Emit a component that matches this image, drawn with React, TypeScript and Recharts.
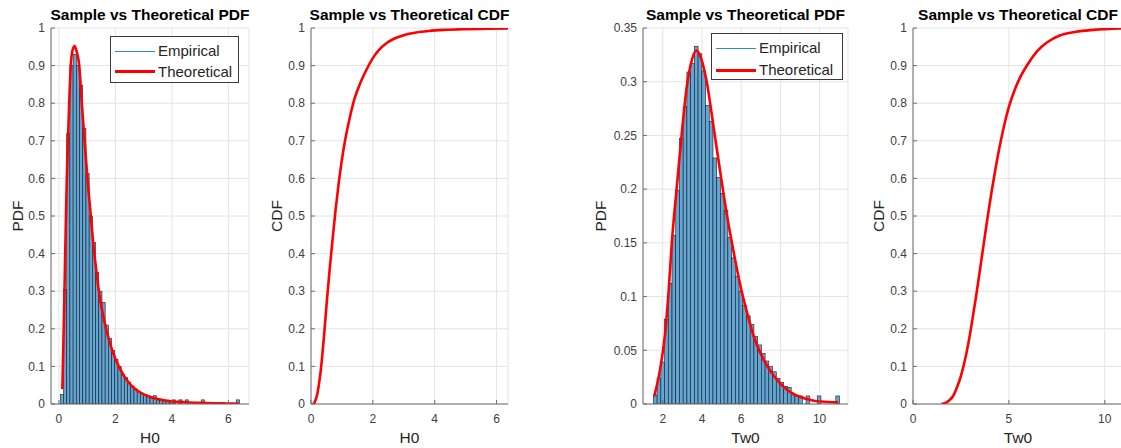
import React from "react";
import { Bar, CartesianGrid, ComposedChart, Line, XAxis, YAxis } from "recharts";

const FONT = '"Liberation Sans", Arial, Helvetica, sans-serif';
const BAR_FILL = "#60a7d8";
const BAR_EDGE = "#1c1c1c";
const RED = "#ff0000";
const AXIS = "#6e6e6e";

// ---- H0: pdf-normalised histogram (bin edges start + i * width) ----
const H0_BIN_START = 0.05;
const H0_BIN_WIDTH = 0.1134;
const H0_HIST = [
  0.025, 0.305, 0.72, 0.9, 0.93, 0.9, 0.848, 0.733, 0.613, 0.5,
  0.43, 0.35, 0.3, 0.27, 0.21, 0.175, 0.142, 0.118, 0.1, 0.078,
  0.07, 0.058, 0.048, 0.04, 0.034, 0.029, 0.024, 0.02, 0.016, 0.022,
  0.011, 0.009, 0.008, 0.006, 0.005, 0.011, 0, 0.011, 0, 0.011,
  0, 0, 0, 0, 0.011, 0, 0, 0, 0, 0,
  0, 0, 0, 0, 0, 0.011,
];

// theoretical pdf of H0
const H0_PDF_X = [
  0.12, 0.13, 0.2, 0.25, 0.28, 0.32, 0.365, 0.42, 0.48, 0.555, 0.62, 0.72, 0.81, 0.91, 1.01,
  1.13, 1.2, 1.3, 1.415, 1.54, 1.67, 1.9, 2.12, 2.3, 2.55, 2.85, 3.19, 3.5, 4.0, 4.5, 5.0,
  5.5, 6.0, 6.36,
];
const H0_PDF_Y = [
  0.04, 0.064, 0.312, 0.5, 0.6, 0.7, 0.8, 0.9, 0.94, 0.952, 0.94, 0.9, 0.8, 0.7, 0.6,
  0.5, 0.44, 0.37, 0.3, 0.245, 0.2, 0.14, 0.1, 0.075, 0.05, 0.032, 0.02, 0.013, 0.007, 0.0045, 0.003,
  0.002, 0.0015, 0.001,
];

// theoretical cdf of H0
const H0_CDF_X = [
  0.07, 0.12, 0.2, 0.27, 0.33, 0.43, 0.52, 0.6, 0.7, 0.8, 0.9, 1.0, 1.1, 1.25, 1.4,
  1.6, 1.83, 2.0, 2.2, 2.45, 2.7, 3.0, 3.4, 3.8, 4.3, 5.0, 5.7, 6.37,
];
const H0_CDF_Y = [
  0, 0.005, 0.025, 0.06, 0.1, 0.19, 0.28, 0.355, 0.44, 0.52, 0.59, 0.65, 0.7, 0.76, 0.81,
  0.855, 0.895, 0.92, 0.942, 0.96, 0.972, 0.981, 0.988, 0.992, 0.995, 0.997, 0.998, 0.999,
];

// ---- Tw0 ----
const TW0_BIN_START = 1.52;
const TW0_BIN_WIDTH = 0.19;
const TW0_HIST = [
  0.0085, 0.024, 0.039, 0.079, 0.112, 0.157, 0.199, 0.247, 0.277, 0.309,
  0.317, 0.333, 0.326, 0.31, 0.278, 0.263, 0.229, 0.211, 0.196, 0.18,
  0.155, 0.136, 0.119, 0.105, 0.092, 0.082, 0.074, 0.063, 0.055, 0.047,
  0.04, 0.035, 0.03, 0.024, 0.02, 0.0165, 0.0155, 0.0085, 0.0075, 0.0075,
  0, 0.0075, 0, 0, 0.0075, 0, 0, 0, 0, 0.0075,
];

const TW0_PDF_X = [
  1.56, 1.86, 2.12, 2.29, 2.46, 2.72, 2.97, 3.23, 3.48, 3.71, 3.95, 4.25, 4.59, 4.94,
  5.28, 5.62, 5.96, 6.3, 6.64, 7.15, 7.67, 8.35, 9.03, 9.71, 10.4, 10.94,
];
const TW0_PDF_Y = [
  0.007, 0.032, 0.066, 0.103, 0.15, 0.203, 0.252, 0.296, 0.32, 0.329, 0.322, 0.299, 0.258, 0.215,
  0.175, 0.141, 0.11, 0.085, 0.063, 0.041, 0.026, 0.013, 0.0065, 0.003, 0.0019, 0.0015,
];

const TW0_CDF_X = [
  1.48, 1.7, 1.9, 2.1, 2.3, 2.5, 2.7, 2.9, 3.1, 3.3, 3.5, 3.7, 3.9, 4.1,
  4.3, 4.5, 4.75, 5.0, 5.3, 5.6, 6.0, 6.5, 7.0, 7.65, 8.5, 9.4, 10.95,
];
const TW0_CDF_Y = [
  0, 0.003, 0.01, 0.022, 0.045, 0.075, 0.115, 0.165, 0.225, 0.29, 0.36, 0.43, 0.5, 0.565,
  0.625, 0.68, 0.74, 0.79, 0.835, 0.87, 0.905, 0.94, 0.962, 0.98, 0.99, 0.995, 0.999,
];

// ---- axis ticks ----
const TICKS_0_1 = [0, 0.1, 0.2, 0.3, 0.4, 0.5, 0.6, 0.7, 0.8, 0.9, 1];
const TICKS_0_035 = [0, 0.05, 0.1, 0.15, 0.2, 0.25, 0.3, 0.35];
const H0_X_TICKS = [0, 2, 4, 6];
const TW0_PDF_X_TICKS = [2, 4, 6, 8, 10];
const TW0_CDF_X_TICKS = [0, 5, 10];

type Pt = { x: number; y: number };

const zip = (xs: number[], ys: number[]): Pt[] => xs.map((x, i) => ({ x, y: ys[i] }));
const bins = (start: number, w: number, ys: number[]): Pt[] =>
  ys.map((y, i) => ({ x: start + (i + 0.5) * w, y }));

const PLOT_TOP = 28;
const PLOT_BOTTOM = 404;
const H = 448;

type PanelProps = {
  left: number;
  width: number;
  plotLeft: number;
  plotRight: number;
  xDomain: [number, number];
  xTicks: number[];
  yDomain: [number, number];
  yTicks: number[];
  hist?: Pt[];
  binWidth?: number;
  curve: Pt[];
  title: string;
  xLabel: string;
  yLabel: string;
  yLabelX: number;
  legend?: { left: number; top: number; width: number; height: number; rows: [number, number] };
};

function Legend({ left, top, width, height, rows }: NonNullable<PanelProps["legend"]>) {
  const row = (y: number, label: string, color: string, lw: number) => (
    <div
      style={{
        position: "absolute",
        left: 4,
        top: y - 9,
        height: 18,
        display: "flex",
        alignItems: "center",
        whiteSpace: "nowrap",
      }}
    >
      <span style={{ display: "inline-block", width: 40, height: 0, borderTop: `${lw}px solid ${color}` }} />
      <span style={{ marginLeft: 3, lineHeight: "18px" }}>{label}</span>
    </div>
  );
  return (
    <div
      style={{
        position: "absolute",
        left,
        top,
        width,
        height,
        boxSizing: "border-box",
        border: "1px solid #3a3a3a",
        background: "#fff",
        fontFamily: FONT,
        fontSize: 15,
        color: "#262626",
      }}
    >
      {row(rows[0], "Empirical", "#2f8ad0", 1.5)}
      {row(rows[1], "Theoretical", RED, 3)}
    </div>
  );
}

// histogram bin: centred on the bar slot Recharts gives, as wide as one bin on the x scale
const binShape = (binPx: number) => (props: any) => {
  const { x, y, width, height } = props;
  if (!height || height <= 0) return <g />;
  const cx = x + width / 2;
  return (
    <rect
      x={cx - binPx / 2}
      y={y}
      width={binPx}
      height={height}
      fill={BAR_FILL}
      stroke={BAR_EDGE}
      strokeWidth={0.6}
    />
  );
};

function Panel(p: PanelProps) {
  const plotW = p.plotRight - p.plotLeft;
  const binPx = p.binWidth ? (p.binWidth * plotW) / (p.xDomain[1] - p.xDomain[0]) : 0;
  const cx = (p.plotLeft + p.plotRight) / 2 - p.left;
  const tickStyle = { fontSize: 12, fill: "#404040", fontFamily: FONT };
  return (
    <div style={{ position: "absolute", left: p.left, top: 0, width: p.width, height: H }}>
      <ComposedChart
        width={p.width}
        height={H}
        data={p.hist ?? p.curve}
        barCategoryGap={0}
        barGap={0}
        margin={{ top: PLOT_TOP, right: p.left + p.width - p.plotRight, bottom: 0, left: 0 }}
      >
        <CartesianGrid stroke="#e4e4e4" />
        <XAxis
          type="number"
          dataKey="x"
          domain={p.xDomain}
          ticks={p.xTicks}
          allowDataOverflow
          interval={0}
          height={H - PLOT_BOTTOM}
          tickSize={-4}
          tickMargin={14}
          stroke={AXIS}
          tick={tickStyle}
        />
        <XAxis
          xAxisId="top"
          orientation="top"
          type="number"
          dataKey="x"
          domain={p.xDomain}
          ticks={p.xTicks}
          allowDataOverflow
          interval={0}
          height={0}
          tickSize={-4}
          tick={false}
          stroke={AXIS}
        />
        <YAxis
          type="number"
          domain={p.yDomain}
          ticks={p.yTicks}
          allowDataOverflow
          interval={0}
          width={p.plotLeft - p.left}
          tickSize={-4}
          tickMargin={10}
          stroke={AXIS}
          tick={tickStyle}
          tickFormatter={(v: number) => String(v)}
        />
        <YAxis
          yAxisId="right"
          orientation="right"
          type="number"
          domain={p.yDomain}
          ticks={p.yTicks}
          allowDataOverflow
          interval={0}
          width={0}
          tickSize={-4}
          tick={false}
          stroke={AXIS}
        />
        {p.hist && (
          <Bar
            dataKey="y"
            fill={BAR_FILL}
            shape={binShape(binPx)}
            isAnimationActive={false}
          />
        )}
        <Line
          data={p.curve}
          dataKey="y"
          type="monotone"
          stroke={RED}
          strokeWidth={2.6}
          dot={false}
          activeDot={false}
          isAnimationActive={false}
        />
      </ComposedChart>

      <div
        style={{
          position: "absolute",
          left: cx,
          top: 7,
          transform: "translateX(-50%)",
          whiteSpace: "nowrap",
          fontFamily: FONT,
          fontWeight: "bold",
          fontSize: 15.5,
          lineHeight: "15.5px",
          color: "#000",
        }}
      >
        {p.title}
      </div>
      <div
        style={{
          position: "absolute",
          left: cx,
          top: 430,
          transform: "translateX(-50%)",
          whiteSpace: "nowrap",
          fontFamily: FONT,
          fontSize: 15.5,
          lineHeight: "15.5px",
          color: "#262626",
        }}
      >
        {p.xLabel}
      </div>
      <div
        style={{
          position: "absolute",
          left: p.yLabelX - p.left,
          top: (PLOT_TOP + PLOT_BOTTOM) / 2,
          transform: "translate(-50%, -50%) rotate(-90deg)",
          whiteSpace: "nowrap",
          fontFamily: FONT,
          fontSize: 15.5,
          lineHeight: "15.5px",
          color: "#262626",
        }}
      >
        {p.yLabel}
      </div>
      {p.legend && <Legend {...p.legend} left={p.legend.left - p.left} />}
    </div>
  );
}

export default function App() {
  return (
    <div
      style={{
        position: "absolute",
        left: 0,
        top: 0,
        width: 1121,
        height: 448,
        overflow: "hidden",
        background: "#fff",
      }}
    >
      <Panel
        left={0}
        width={260}
        plotLeft={51}
        plotRight={249}
        xDomain={[-0.28, 6.73]}
        xTicks={H0_X_TICKS}
        yDomain={[0, 1]}
        yTicks={TICKS_0_1}
        hist={bins(H0_BIN_START, H0_BIN_WIDTH, H0_HIST)}
        binWidth={H0_BIN_WIDTH}
        curve={zip(H0_PDF_X, H0_PDF_Y)}
        title="Sample vs Theoretical PDF"
        xLabel="H0"
        yLabel="PDF"
        yLabelX={17.5}
        legend={{ left: 110, top: 36, width: 129, height: 47, rows: [14, 34.5] }}
      />
      <Panel
        left={260}
        width={260}
        plotLeft={311}
        plotRight={508}
        xDomain={[0, 6.37]}
        xTicks={H0_X_TICKS}
        yDomain={[0, 1]}
        yTicks={TICKS_0_1}
        curve={zip(H0_CDF_X, H0_CDF_Y)}
        title="Sample vs Theoretical CDF"
        xLabel="H0"
        yLabel="CDF"
        yLabelX={277}
      />
      <Panel
        left={580}
        width={280}
        plotLeft={643}
        plotRight={848}
        xDomain={[0.99, 11.45]}
        xTicks={TW0_PDF_X_TICKS}
        yDomain={[0, 0.35]}
        yTicks={TICKS_0_035}
        hist={bins(TW0_BIN_START, TW0_BIN_WIDTH, TW0_HIST)}
        binWidth={TW0_BIN_WIDTH}
        curve={zip(TW0_PDF_X, TW0_PDF_Y)}
        title="Sample vs Theoretical PDF"
        xLabel="Tw0"
        yLabel="PDF"
        yLabelX={601}
        legend={{ left: 711, top: 33, width: 132, height: 47, rows: [14, 36] }}
      />
      <Panel
        left={860}
        width={265}
        plotLeft={913}
        plotRight={1123}
        xDomain={[0, 10.95]}
        xTicks={TW0_CDF_X_TICKS}
        yDomain={[0, 1]}
        yTicks={TICKS_0_1}
        curve={zip(TW0_CDF_X, TW0_CDF_Y)}
        title="Sample vs Theoretical CDF"
        xLabel="Tw0"
        yLabel="CDF"
        yLabelX={879}
      />
    </div>
  );
}
